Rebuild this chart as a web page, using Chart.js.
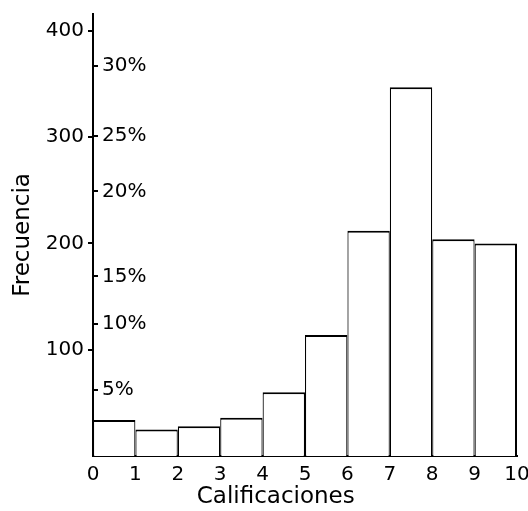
<!DOCTYPE html>
<html>
<head>
<meta charset="utf-8">
<title>Calificaciones</title>
<script src="https://cdn.jsdelivr.net/npm/chart.js@4.4.1/dist/chart.umd.min.js"></script>
<style>
  html, body { margin: 0; padding: 0; background: #fff; }
</style>
</head>
<body>
<canvas id="histChart" width="528" height="511"></canvas>
<script>
// Histogram classes (left edge of each bin) and their frequencies
const binStarts = [0, 1, 2, 3, 4, 5, 6, 7, 8, 9];
const frequencies = [34, 25, 28, 36, 60, 114, 212, 347, 204, 200];

// Axis ticks
const xTicks = [0, 1, 2, 3, 4, 5, 6, 7, 8, 9, 10];
const yTicks = [100, 200, 300, 400];

// Percentage marks on the inner side of the axis, and the frequency level each one sits at
const pctLabels = ['5%', '10%', '15%', '20%', '25%', '30%'];
const pctTickAt = [62, 124, 169, 249, 301, 367];

const yMax = 416;
const black = '#000';
const tickFont = { family: 'DejaVu Sans', size: 20 };
const titleFont = { family: 'DejaVu Sans', size: 23 };

const ctx = document.getElementById('histChart').getContext('2d');
const histChart = new Chart(ctx, {
    type: 'bar',
    data: {
        datasets: [{
            data: binStarts.map((b, i) => ({ x: b + 0.5, y: frequencies[i] })),
            backgroundColor: '#fff',
            borderColor: black,
            // neighbours share an edge, so both halves together make the divider
            borderWidth: (c) => ({
                top: 2,
                left: 1.2,
                bottom: 0,
                right: c.dataIndex === frequencies.length - 1 ? 2 : 1.2
            }),
            borderSkipped: false,
            barPercentage: 1,
            categoryPercentage: 1,
            inflateAmount: 0
        }]
    },
    options: {
        responsive: false,
        animation: false,
        layout: { padding: { top: 14, right: 11, bottom: 0, left: 0 } },
        plugins: {
            legend: { display: false },
            tooltip: { enabled: false }
        },
        scales: {
            x: {
                type: 'linear',
                min: 0,
                max: 10,
                offset: false,
                z: 1,
                afterBuildTicks: (s) => { s.ticks = xTicks.map(v => ({ value: v })); },
                afterFit: (s) => { s.height = 55; s.paddingLeft = 0; s.paddingRight = 0; },
                grid: { display: false, drawTicks: false, offset: false },
                border: { display: true, color: black, width: 2 },
                ticks: { color: black, font: tickFont, padding: 7, maxRotation: 0, autoSkip: false },
                title: {
                    display: true,
                    text: 'Calificaciones        ',
                    color: black,
                    font: titleFont,
                    padding: { top: 0, bottom: 0 }
                }
            },
            y: {
                position: 'left',
                weight: 1,
                min: 0,
                max: yMax,
                z: 1,
                afterBuildTicks: (s) => { s.ticks = yTicks.map(v => ({ value: v })); },
                afterFit: (s) => { s.width = 93; s.paddingTop = 0; s.paddingBottom = 0; },
                grid: { drawOnChartArea: false, drawTicks: true, tickLength: 5, color: black, lineWidth: 2 },
                border: { display: true, color: black, width: 2 },
                ticks: { color: black, font: tickFont, padding: 4 },
                title: {
                    display: true,
                    text: 'Frecuencia',
                    color: black,
                    font: titleFont,
                    padding: { top: 9, bottom: 0 }
                }
            },
            pct: {
                position: 'left',
                weight: 0,
                min: 0,
                max: yMax,
                z: 1,
                afterBuildTicks: (s) => { s.ticks = pctTickAt.map(v => ({ value: v })); },
                afterFit: (s) => { s.width = 0; s.paddingTop = 0; s.paddingBottom = 0; },
                // negative length turns the tick marks towards the plot
                grid: { drawOnChartArea: false, drawTicks: true, tickLength: -5, color: black, lineWidth: 2 },
                border: { display: false },
                ticks: {
                    mirror: true,
                    padding: 9,
                    color: black,
                    font: tickFont,
                    callback: (v, i) => pctLabels[i]
                }
            }
        }
    }
});
</script>
</body>
</html>
